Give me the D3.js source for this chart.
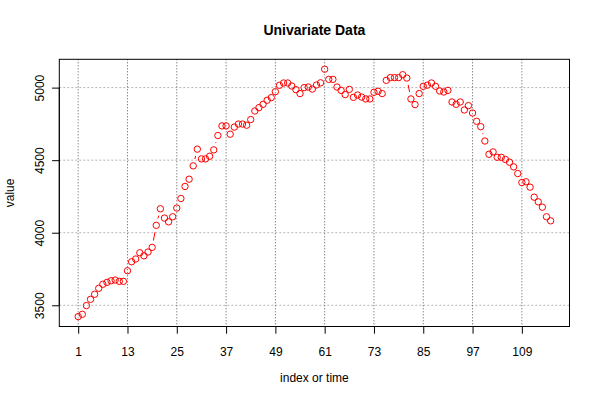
<!DOCTYPE html>
<html>
<head>
<meta charset="utf-8">
<script src="https://cdn.jsdelivr.net/npm/d3@7"></script>
<style>
  html, body { margin: 0; padding: 0; background: #ffffff; }
  svg { display: block; }
  text { font-family: "Liberation Sans", Arial, Helvetica, sans-serif; fill: #000; }
</style>
</head>
<body>
<div id="chart"></div>
<script>
const title = "Univariate Data";
const xLabel = "index or time";
const yLabel = "value";

const values = [
  3422, 3438, 3498, 3541, 3576, 3617, 3645, 3658, 3669, 3674,
  3665, 3665, 3738, 3800, 3819, 3862, 3841, 3867, 3899, 4051,
  4165, 4101, 4075, 4110, 4170, 4236, 4319, 4369, 4461, 4576,
  4509, 4509, 4527, 4571, 4670, 4736, 4736, 4679, 4728, 4749,
  4749, 4741, 4780, 4839, 4862, 4885, 4913, 4931, 4972, 5016,
  5032, 5032, 5011, 4986, 4959, 5000, 5004, 4990, 5018, 5033,
  5127, 5057, 5057, 5004, 4981, 4952, 4988, 4933, 4949, 4935,
  4922, 4922, 4968, 4975, 4959, 5050, 5069, 5069, 5069, 5089,
  5066, 4922, 4883, 4959, 5009, 5017, 5032, 5009, 4977, 4970,
  4981, 4901, 4885, 4901, 4846, 4876, 4825, 4768, 4731, 4632,
  4541, 4557, 4520, 4520, 4505, 4486, 4454, 4408, 4346, 4351,
  4314, 4245, 4213, 4176, 4110, 4082
];
const index = values.map((v, i) => i + 1);

const xTicks = [1, 13, 25, 37, 49, 61, 73, 85, 97, 109];
const yTicks = [3500, 4000, 4500, 5000];

const W = 600, H = 400;
const plot = { left: 59.3, right: 569.5, top: 59.3, bottom: 326.5 };

const svg = d3.select("#chart").append("svg")
  .attr("width", W).attr("height", H);

// R-style 4% axis extension
const xExt = d3.extent(index);
const xPad = (xExt[1] - xExt[0]) * 0.04;
const yExt = d3.extent(values);
const yPad = (yExt[1] - yExt[0]) * 0.04;

const x = d3.scaleLinear()
  .domain([xExt[0] - xPad, xExt[1] + xPad])
  .range([plot.left, plot.right]);
const y = d3.scaleLinear()
  .domain([yExt[0] - yPad, yExt[1] + yPad])
  .range([plot.bottom, plot.top]);

// grid
svg.append("g").selectAll("line").data(yTicks).join("line")
  .attr("x1", plot.left).attr("x2", plot.right)
  .attr("y1", d => y(d)).attr("y2", d => y(d))
  .attr("stroke", "#b4b4b4").attr("stroke-width", 1)
  .attr("stroke-dasharray", "2,2");
svg.append("g").selectAll("line").data(xTicks).join("line")
  .attr("x1", d => x(d)).attr("x2", d => x(d))
  .attr("y1", plot.top).attr("y2", plot.bottom)
  .attr("stroke", "#555").attr("stroke-width", 1)
  .attr("stroke-dasharray", "1,2");

// axes
const xAxis = d3.axisBottom(x).tickValues(xTicks).tickSize(7.2).tickPadding(14).tickFormat(d3.format("d"));
const gx = svg.append("g").attr("transform", `translate(0,${plot.bottom})`).call(xAxis);
gx.select(".domain").attr("d", `M${x(xTicks[0])},0H${x(xTicks[xTicks.length-1])}`).attr("stroke", "#000");
gx.selectAll(".tick line").attr("stroke", "#000");
gx.selectAll(".tick text").attr("font-size", 12).attr("font-family", "Liberation Sans, Arial, sans-serif").attr("fill", "#000");

const yAxis = d3.axisLeft(y).tickValues(yTicks).tickSize(7.2).tickFormat(d3.format("d"));
const gy = svg.append("g").attr("transform", `translate(${plot.left},0)`).call(yAxis);
gy.select(".domain").attr("d", `M0,${y(yTicks[0])}V${y(yTicks[yTicks.length-1])}`).attr("stroke", "#000");
gy.selectAll(".tick line").attr("stroke", "#000");
gy.selectAll(".tick text")
  .attr("font-size", 12).attr("font-family", "Liberation Sans, Arial, sans-serif").attr("fill", "#000")
  .attr("x", null).attr("dy", null)
  .attr("text-anchor", "middle")
  .attr("transform", "translate(-15.8,0) rotate(-90)");

// box
svg.append("rect")
  .attr("x", plot.left).attr("y", plot.top)
  .attr("width", plot.right - plot.left).attr("height", plot.bottom - plot.top)
  .attr("fill", "none").attr("stroke", "#000").attr("stroke-width", 1);

// type "b": line segments with gaps around points
const pts = values.map((v, i) => [x(index[i]), y(v)]);
const gap = 7;
const segs = [];
for (let i = 0; i < pts.length - 1; i++) {
  const [x1, y1] = pts[i], [x2, y2] = pts[i + 1];
  const dx = x2 - x1, dy = y2 - y1, d = Math.hypot(dx, dy);
  if (d > 2 * gap) {
    const ux = dx / d, uy = dy / d;
    segs.push([x1 + ux * gap, y1 + uy * gap, x2 - ux * gap, y2 - uy * gap]);
  }
}
svg.append("g").selectAll("line").data(segs).join("line")
  .attr("x1", d => d[0]).attr("y1", d => d[1])
  .attr("x2", d => d[2]).attr("y2", d => d[3])
  .attr("stroke", "#ff0000").attr("stroke-width", 1);

svg.append("g").selectAll("circle").data(values).join("circle")
  .attr("cx", (d, i) => x(index[i]))
  .attr("cy", d => y(d))
  .attr("r", 3.2)
  .attr("fill", "none")
  .attr("stroke", "#ff0000")
  .attr("stroke-width", 1);

// titles
svg.append("text")
  .attr("x", (plot.left + plot.right) / 2).attr("y", 34.5)
  .attr("text-anchor", "middle")
  .attr("font-size", 14).attr("font-weight", "bold")
  .text(title);

svg.append("text")
  .attr("x", (plot.left + plot.right) / 2).attr("y", 382)
  .attr("text-anchor", "middle")
  .attr("font-size", 12)
  .text(xLabel);

svg.append("text")
  .attr("transform", `translate(14,${(plot.top + plot.bottom) / 2}) rotate(-90)`)
  .attr("text-anchor", "middle")
  .attr("font-size", 12)
  .text(yLabel);
</script>
</body>
</html>
